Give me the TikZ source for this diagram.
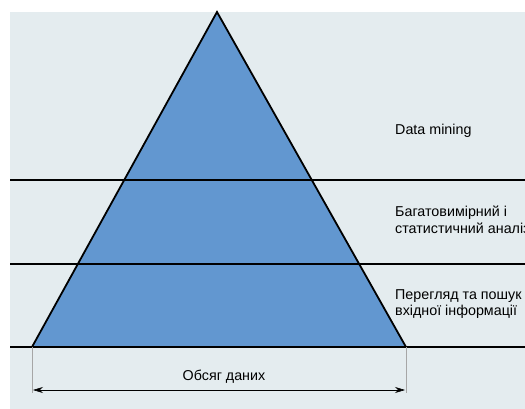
\documentclass[tikz,border=0pt]{standalone}
\usepackage{fontspec}
\setmainfont{Liberation Sans}
\usetikzlibrary{arrows.meta,positioning}
\definecolor{bgpanel}{RGB}{228,236,239}
\definecolor{pyrblue}{RGB}{98,151,208}
\tikzset{
  level/.style={line width=2.4pt, black},
  lbl/.style={anchor=west, align=left, inner sep=0pt, font=\fontsize{14.3}{16.5}\selectfont},
  guide/.style={gray!70, line width=0.5pt}
}
\begin{document}
\begin{tikzpicture}[x=1pt, y=-1pt]
  \useasboundingbox (0,0) rectangle (525,409);
  \fill[bgpanel] (10,12) rectangle (525,409);
  % pyramid
  \coordinate (apex) at (217,12);
  \coordinate (baseL) at (32,347);
  \coordinate (baseR) at (406,347);
  \draw[fill=pyrblue, line width=1.8pt, line join=miter] (baseL) -- (apex) -- (baseR) -- cycle;
  % levels
  \foreach \y/\nm in {180/one,264/two,347/three} {
    \coordinate (\nm-w) at (10,\y);
    \coordinate (\nm-e) at (525,\y);
    \draw[level] (\nm-w) -- (\nm-e);
  }
  \node[lbl] (mining) at (395,131) {Data mining};
  \node[lbl] (olap) at (395,220) {Багатовимірний і\\статистичний аналіз};
  \node[lbl] (browse) at (395,304) {Перегляд та пошук\\вхідної інформації};
  % volume
  \coordinate (gl) at (32,393);
  \coordinate (gr) at (406,393);
  \coordinate (vl) at (33,390);
  \coordinate (vr) at (405,390);
  \draw[guide] (baseL) -- (gl);
  \draw[guide] (baseR) -- (gr);
  \draw[{Stealth[length=10pt,width=6pt]}-{Stealth[length=10pt,width=6pt]}, line width=0.6pt] (vl) -- (vr);
  \node[lbl, anchor=center] (volume) at (224,377) {Обсяг даних};
\end{tikzpicture}
\end{document}
